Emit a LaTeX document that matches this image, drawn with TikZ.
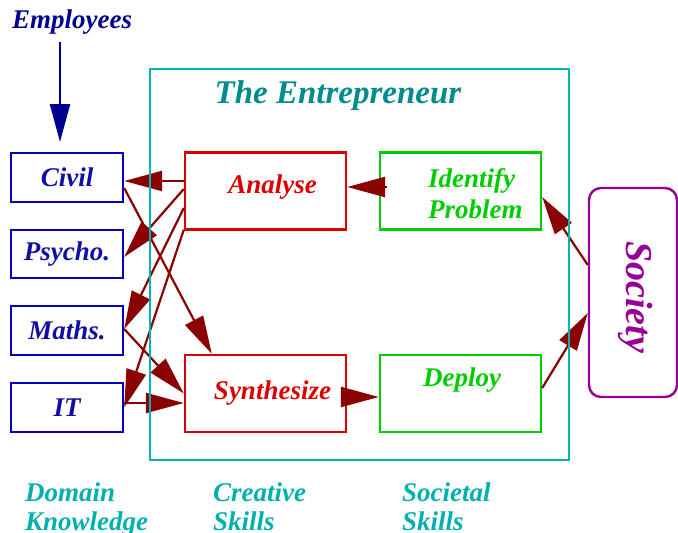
\documentclass[tikz,border=0pt]{standalone}
\usepackage{fontspec}
\setmainfont{Liberation Serif}
\usetikzlibrary{arrows.meta}
\definecolor{empblue}{RGB}{0,0,190}
\definecolor{emptext}{RGB}{15,15,165}
\definecolor{navy}{RGB}{0,0,145}
\definecolor{crred}{RGB}{220,0,0}
\definecolor{socgreen}{RGB}{0,205,0}
\definecolor{socpurple}{RGB}{150,0,150}
\definecolor{frameteal}{RGB}{0,180,180}
\definecolor{titleteal}{RGB}{0,140,140}
\definecolor{skillteal}{RGB}{0,175,175}
\definecolor{arrowred}{RGB}{139,0,0}
\tikzset{
  txt/.style={inner sep=0pt, font=\fontsize{27}{31}\selectfont\bfseries\itshape},
  skill/.style={txt, text=skillteal, align=left, anchor=base west, font=\fontsize{27}{29}\selectfont\bfseries\itshape},
  empbox/.style={txt, draw=empblue, text=emptext, line width=2.4pt, minimum width=112pt, minimum height=49pt},
  crbox/.style={draw=crred, line width=2.4pt, minimum width=161pt, minimum height=77pt, inner sep=0pt},
  socbox/.style={draw=socgreen, line width=2.4pt, minimum width=161pt, minimum height=77pt, inner sep=0pt},
  ar/.style={draw=arrowred, line width=2.2pt, -{Triangle[length=38pt,width=20pt]}},
}

\begin{document}
\begin{tikzpicture}[x=1pt, y=-1pt]
	\useasboundingbox (0,0) rectangle (678,533);
	
	\node[txt, text=navy, anchor=base west] (employees) at (12,28) {Employees};
	\coordinate (emptip) at (60,142);
	
	\node[empbox] (civil) at (67,177.5) {Civil};
	\node[empbox, minimum height=48pt] (psycho) at (67,254) {Psycho.};
	\node[empbox] (maths) at (67,330.5) {Maths.};
	\node[empbox] (it) at (67,407.5) {IT};
	
	\node[crbox] (analyse) at (265.5,191) {};
	\node[crbox] (synth) at (265.5,393.5) {};
	\node[socbox] (ident) at (460.5,191) {};
	\node[socbox] (deploy) at (460.5,393.5) {};
	\node[txt, text=crred] (analyse-t) at ([xshift=7pt,yshift=4pt]analyse.center) {Analyse};
	\node[txt, text=crred] (synth-t) at ([xshift=7pt]synth.center) {Synthesize};
	\node[txt, text=socgreen, align=left, anchor=base west] (ident-t) at (428,218) {Identify\\Problem};
	\node[txt, text=socgreen] (deploy-t) at ([xshift=1.5pt,yshift=13pt]deploy.center) {Deploy};
	
	\node[draw=socpurple, line width=2.4pt, rounded corners=12pt, minimum width=88pt, minimum height=209pt] (society) at (633,292.5) {};
	\node[txt, text=socpurple, font=\fontsize{38}{40}\selectfont\bfseries\itshape, rotate=-90] (society-t) at (636,297) {Society};
	
	% employees in
	\draw[draw=navy, line width=2.2pt, -{Triangle[length=38pt,width=20pt]}, shorten <=8pt] (employees.south -| emptip) -- (emptip);
	
	% analyse -> domains
	\draw[ar] ([yshift=10pt]analyse.west) -- ([yshift=-3.5pt]civil.east);
	\draw[ar] ([yshift=2pt]analyse.west) -- ([yshift=-3pt]psycho.east);
	\draw[ar] ([yshift=-17pt]analyse.west) -- ([yshift=1.5pt]maths.east);
	\draw[ar] ([yshift=1pt]analyse.south west) -- (it.east);
	
	% domains -> synthesize
	\draw[ar] ([yshift=-10.5pt]civil.east) -- ([xshift=28pt]synth.north west);
	\draw[ar] ([yshift=1.5pt]maths.east) -- (synth.west);
	\draw[ar] ([yshift=4.5pt]it.east) -- ([yshift=-9.5pt]synth.west);
	
	\draw[ar] ([xshift=8pt,yshift=4pt]ident.west) -- ([yshift=4pt]analyse.east);
	\draw[ar] ([yshift=-3.5pt]synth.east) -- ([yshift=-3.5pt]deploy.west);
	\draw[ar] ([yshift=5.5pt]deploy.east) -- ([yshift=-20.5pt]society.west);
	\draw[ar] ([yshift=27.5pt]society.west) -- ([yshift=-6pt]ident.east);
	
	% the entrepreneur
	\draw[draw=frameteal, line width=2.4pt] (150,69) rectangle (569,460);
	\node[txt, text=titleteal, font=\fontsize{33}{36}\selectfont\bfseries\itshape, anchor=base] (title) at (338,103) {The Entrepreneur};
	
	\node[skill] (domain) at (25,530) {Domain\\Knowledge};
	\node[skill] (creative) at (213,530) {Creative\\Skills};
	\node[skill] (societal) at (402,530) {Societal\\Skills};
\end{tikzpicture}
\end{document}
